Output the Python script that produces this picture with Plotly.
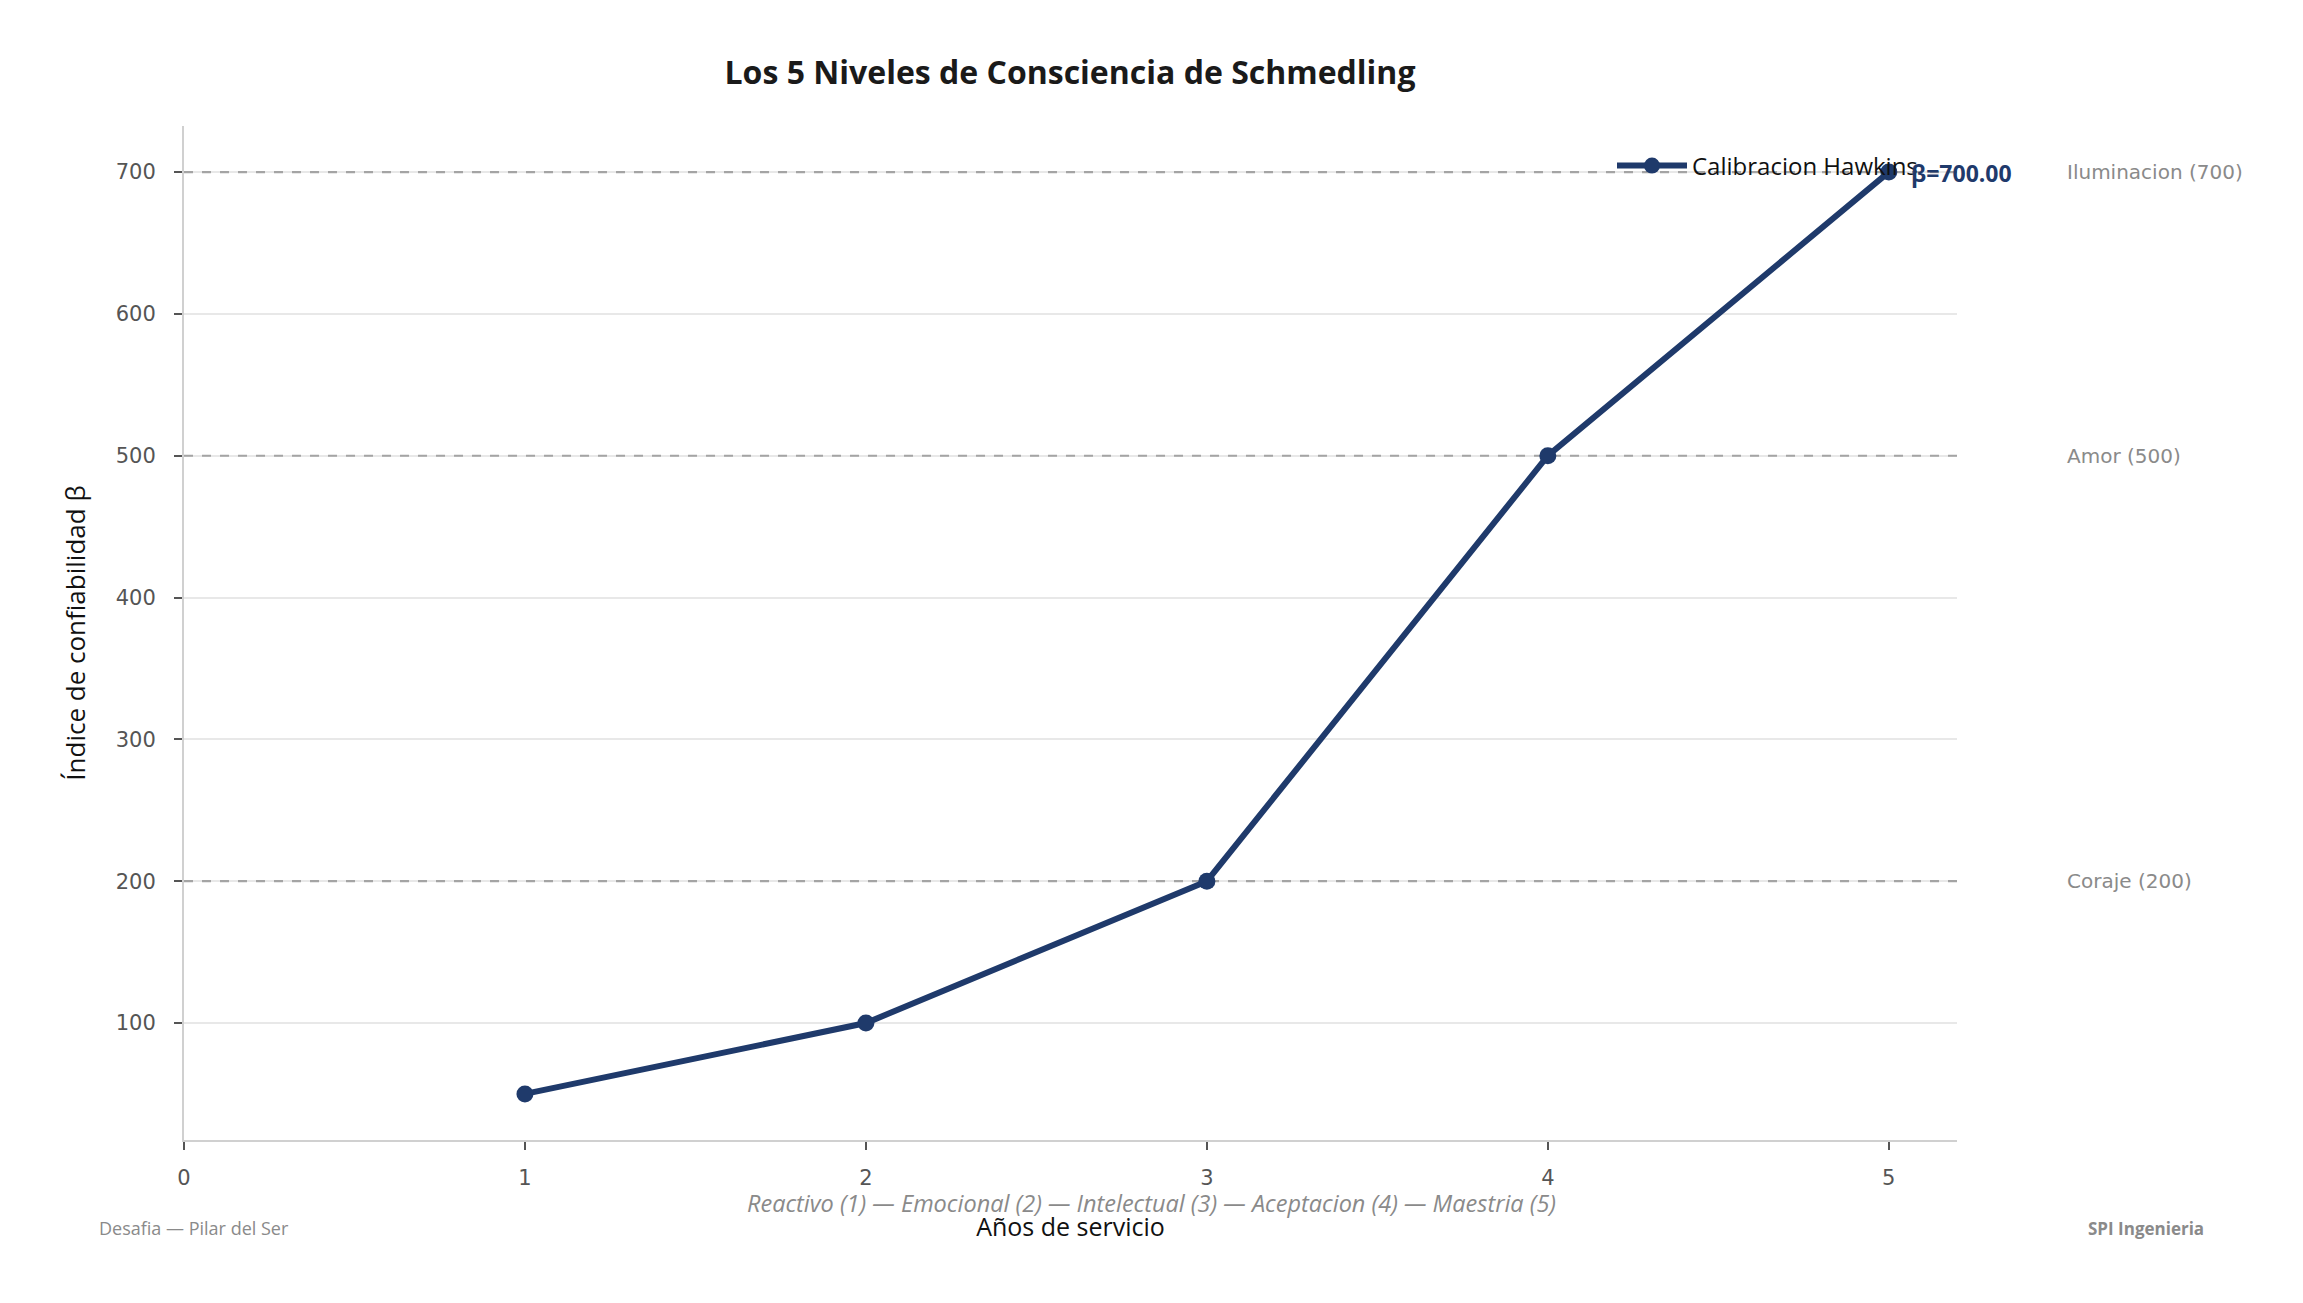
import plotly.graph_objects as go

years = [1, 2, 3, 4, 5]
beta = [50, 100, 200, 500, 700]
level_values = [200, 500, 700]
level_labels = ["Coraje (200)", "Amor (500)", "Iluminacion (700)"]
series_name = "Calibracion Hawkins"
title = "Los 5 Niveles de Consciencia de Schmedling"
subtitle = "Reactivo (1) — Emocional (2) — Intelectual (3) — Aceptacion (4) — Maestria (5)"
x_range = [0, 5.2]
y_range = [17.5, 732.5]

NAVY = "#1f3a6b"
GREY = "#8a8a8a"
TITLE_FONT = "Liberation Sans Narrow, Open Sans, sans-serif"

# plot-area geometry in pixels
L, R, T, B = 184, 1957, 126, 1140
W, H = 2303, 1303


def px_x(p):
    return (p - L) / (R - L)


def px_y(p):
    return (B - p) / (B - T)


fig = go.Figure()

# reference level lines (drawn as traces so they sit above the grid, below the series)
for v in level_values:
    fig.add_trace(go.Scatter(
        x=x_range, y=[v, v], mode="lines", showlegend=False, hoverinfo="skip",
        line=dict(color="#a4a4a4", width=2.2, dash="dash"), cliponaxis=True,
    ))

fig.add_trace(go.Scatter(
    x=years, y=beta, mode="lines+markers", name=series_name,
    line=dict(color=NAVY, width=6),
    marker=dict(color=NAVY, size=17),
))

for v, lab in zip(level_values, level_labels):
    fig.add_annotation(x=1, xref="paper", y=v, yref="y", text=lab, showarrow=False,
                       xanchor="left", xshift=108,
                       font=dict(family="DejaVu Sans", size=20, color=GREY))

fig.add_annotation(x=years[-1], y=beta[-1], text=f"β={beta[-1]:.2f}", showarrow=False,
                   xanchor="left", xshift=20, yshift=-1,
                   font=dict(family=TITLE_FONT, size=23, color=NAVY, weight="bold"))

fig.add_annotation(x=px_x(1151), xref="paper", y=px_y(1203), yref="paper",
                   text=f"<i>{subtitle}</i>", showarrow=False, xanchor="center", yanchor="middle",
                   font=dict(family=TITLE_FONT, size=23.5, color=GREY))

fig.add_annotation(x=px_x(97), xref="paper", y=px_y(1228), yref="paper",
                   text="Desafia — Pilar del Ser", showarrow=False, xanchor="left", yanchor="middle",
                   font=dict(family=TITLE_FONT, size=18, color=GREY))
fig.add_annotation(x=px_x(2206), xref="paper", y=px_y(1228), yref="paper",
                   text="<b>SPI Ingenieria</b>", showarrow=False, xanchor="right", yanchor="middle",
                   font=dict(family="Open Sans", size=17, color=GREY))

fig.update_layout(
    width=W, height=H,
    paper_bgcolor="white", plot_bgcolor="white",
    margin=dict(l=L, r=W - R, t=T, b=H - B, autoexpand=False),
    title=dict(text=f"<b>{title}</b>", x=1070 / W, xanchor="center", y=1 - 73 / H, yanchor="middle",
               font=dict(family=TITLE_FONT, size=32, color="#1a1a1a")),
    showlegend=True,
    legend=dict(x=px_x(1612), xref="paper", y=1 - 166 / H, yref="container", yanchor="middle",
                xanchor="left", bgcolor="rgba(0,0,0,0)", itemwidth=70,
                font=dict(family=TITLE_FONT, size=24, color="#111111")),
    xaxis=dict(range=x_range, tickvals=[0, 1, 2, 3, 4, 5], showgrid=False, zeroline=False,
               showline=True, linecolor="#d0d0d0", linewidth=2,
               ticks="outside", ticklen=8, tickcolor="#555555", tickwidth=2,
               ticklabelstandoff=10,
               tickfont=dict(family="DejaVu Sans", size=21, color="#555555"),
               title=dict(text="Años de servicio", standoff=29,
                          font=dict(family=TITLE_FONT, size=25, color="#111111"))),
    yaxis=dict(range=y_range, tickvals=[100, 200, 300, 400, 500, 600, 700],
               showgrid=True, gridcolor="#e8e8e8", gridwidth=1.5, zeroline=False,
               showline=True, linecolor="#d0d0d0", linewidth=2,
               ticks="outside", ticklen=8, tickcolor="#555555", tickwidth=2,
               ticklabelstandoff=14,
               tickfont=dict(family="DejaVu Sans", size=21, color="#555555"),
               title=dict(text="Índice de confiabilidad β", standoff=23,
                          font=dict(family=TITLE_FONT, size=26, color="#111111"))),
)

fig.write_html("out.html")
